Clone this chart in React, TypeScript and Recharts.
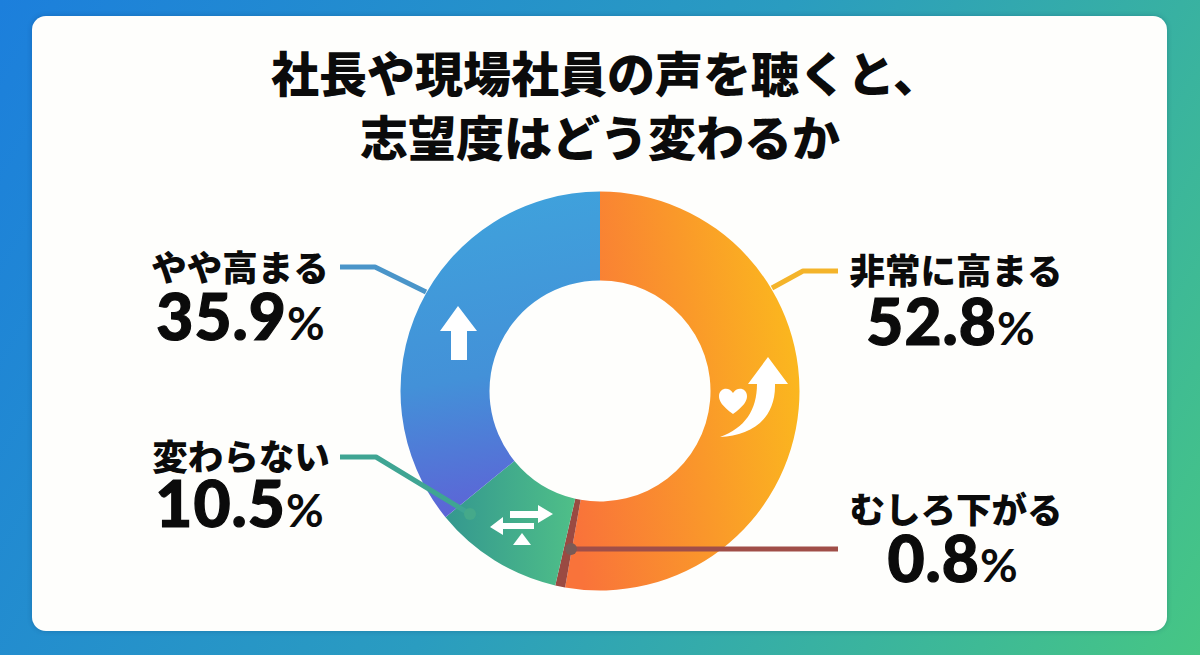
import React from "react";
import { PieChart, Pie, Cell } from "recharts";

const titleLines = ["社長や現場社員の声を聴くと、", "志望度はどう変わるか"];
const categories = ["非常に高まる", "むしろ下がる", "変わらない", "やや高まる"];
const values = [52.8, 0.8, 10.5, 35.9];
const fills = ["url(#gOrange)", "#9A4A42", "url(#gGreen)", "url(#gBlue)"];

const chartData = categories.map((name, i) => ({ name, value: values[i] }));

const JP = "'Noto Sans CJK JP', sans-serif";
const NUM = "Lato, 'Noto Sans', sans-serif";

// Annotation layout, one per category
const callouts = [
  { cx: 956, nameY: 271, numCx: 951, numY: 345, line: "772,288 803,271 838,271", color: "#F4B42A", dot: null },
  { cx: 956, nameY: 510, numCx: 953, numY: 582, line: "571,549 838,549", color: "#A04E48", dot: [571, 549] },
  { cx: 241, nameY: 457, numCx: 240, numY: 527, line: "340,457 376,457 470,514", color: "#3FA593", dot: [470, 514] },
  { cx: 240, nameY: 268, numCx: 241, numY: 340, line: "340,267 375,267 426,292", color: "#4A95C9", dot: null },
];

function Icon({ index }: { index: number }) {
  if (index === 0) {
    return (
      <g fill="#FFFFFF">
        <path d="M733,414 C722,406 719,401 719,396 C719,388 729,386 733,393 C737,386 747,388 747,396 C747,401 744,406 733,414 Z" />
        <path d="M720,437 C750,436 776,420 775,384 L788,384 L768,357 L748,384 L757,384 C757,410 745,428 720,437 Z" />
      </g>
    );
  }
  if (index === 2) {
    return (
      <g fill="#FFFFFF">
        <path d="M510,511 L538,511 L538,505 L553,514 L538,523 L538,518 L510,518 Z" />
        <path d="M534,523 L503,523 L503,517 L490,527 L503,535 L503,529 L534,529 Z" />
        <path d="M522,533 L531,545 L513,545 Z" />
      </g>
    );
  }
  if (index === 3) {
    return <path fill="#FFFFFF" d="M458,306 L477,331 L467,331 L467,360 L451,360 L451,331 L440,331 Z" />;
  }
  return null;
}

function renderCallout(props: any) {
  const i: number = props.index;
  const c = callouts[i];
  return (
    <g key={i}>
      <Icon index={i} />
      <polyline points={c.line} fill="none" stroke={c.color} strokeWidth={5} strokeLinejoin="round" />
      {c.dot && <circle cx={c.dot[0]} cy={c.dot[1]} r={6} fill={i === 1 ? "#7A5A55" : "#45A98A"} />}
      <text x={c.cx} y={c.nameY + 13} textAnchor="middle" fontFamily={JP} fontWeight={900} fontSize={35.5} fill="#0B0B0B" stroke="none">
        {categories[i]}
      </text>
      <text x={c.numCx} y={c.numY} textAnchor="middle" fontFamily={NUM} fontWeight={900} fontSize={64} letterSpacing={1} fill="#0B0B0B" stroke="#0B0B0B" strokeWidth={1.2}>
        {values[i].toFixed(1)}
        <tspan fontSize={46} fontWeight={700} strokeWidth={0}>%</tspan>
      </text>
    </g>
  );
}

export default function App() {
  return (
    <div style={{ position: "absolute", left: 0, top: 0, width: 1200, height: 655, overflow: "hidden", background: "linear-gradient(120deg, #1C7FDC 0%, #2A9CC0 50%, #46C684 100%)" }}>
      <div style={{ position: "absolute", left: 32, top: 16, width: 1135, height: 615, borderRadius: 14, background: "#FEFEFC", boxShadow: "0 0 5px rgba(0,40,90,0.25)" }} />
      <div style={{ position: "absolute", left: 0, top: 39, width: 1200, textAlign: "center", fontFamily: JP, fontWeight: 900, fontSize: 48, lineHeight: "64px", color: "#0B0B0B" }}>
        {titleLines.map((t, i) => (
          <div key={t} style={{ transform: i === 0 ? "translateX(6px)" : "none" }}>{t}</div>
        ))}
      </div>
      <div style={{ position: "absolute", left: 0, top: 0 }}>
        <PieChart width={1200} height={655} margin={{ top: 0, right: 0, bottom: 0, left: 0 }}>
          <defs>
            <linearGradient id="gOrange" x1="0" y1="0.6" x2="1" y2="0.4">
              <stop offset="0" stopColor="#F9733A" />
              <stop offset="0.55" stopColor="#FA982A" />
              <stop offset="1" stopColor="#FBB81E" />
            </linearGradient>
            <linearGradient id="gBlue" x1="0.5" y1="0" x2="0.6" y2="1">
              <stop offset="0" stopColor="#3FA2DC" />
              <stop offset="0.55" stopColor="#4391D8" />
              <stop offset="1" stopColor="#5F60D6" />
            </linearGradient>
            <linearGradient id="gGreen" x1="0" y1="0.5" x2="1" y2="0.5">
              <stop offset="0" stopColor="#34988F" />
              <stop offset="1" stopColor="#4FBF88" />
            </linearGradient>
          </defs>
          <Pie
            data={chartData}
            dataKey="value"
            nameKey="name"
            cx={600}
            cy={391}
            innerRadius={110.5}
            outerRadius={199.5}
            startAngle={90}
            endAngle={-270}
            stroke="none"
            isAnimationActive={false}
            label={renderCallout}
            labelLine={false}
          >
            {chartData.map((d, i) => (
              <Cell key={d.name} fill={fills[i]} />
            ))}
          </Pie>
        </PieChart>
      </div>
    </div>
  );
}
